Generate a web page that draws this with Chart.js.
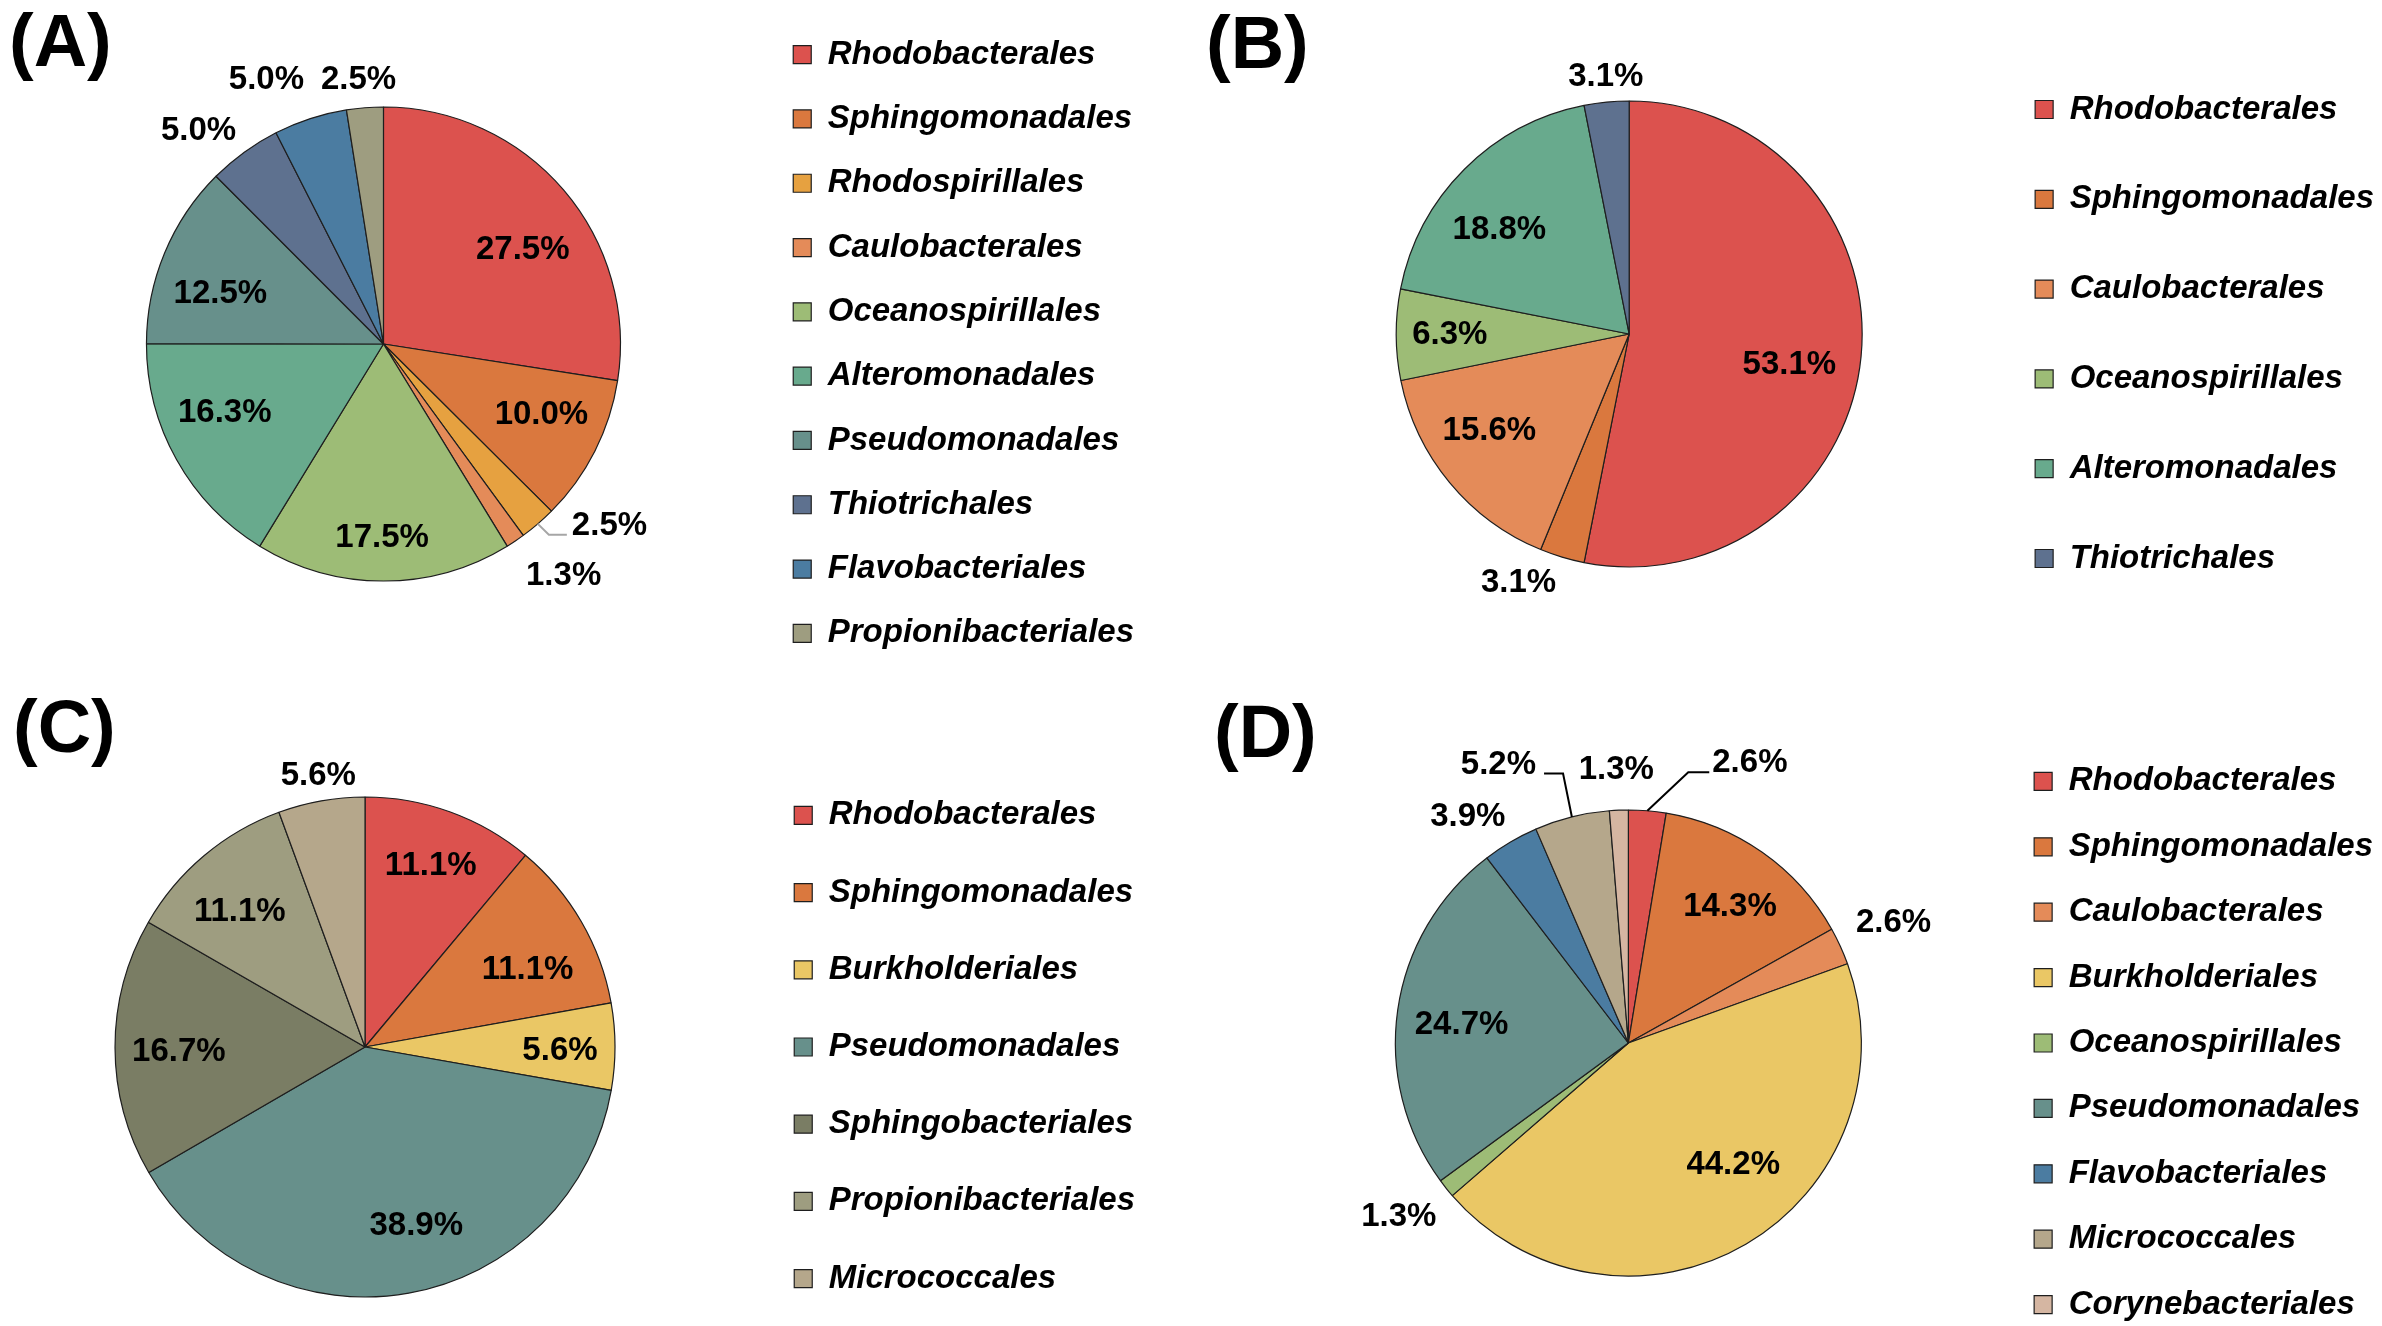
<!DOCTYPE html>
<html>
<head>
<meta charset="utf-8">
<script src="https://cdn.jsdelivr.net/npm/chart.js@4"></script>
<style>
body { margin: 0; background: #fff; }
#page { position: relative; width: 2382px; height: 1326px; overflow: hidden; background: #fff; }
.tag { position: absolute; font: bold 74px "Liberation Sans", Arial, sans-serif; line-height: 1; color: #000; }
canvas { position: absolute; }
</style>
</head>
<body>
<div id="page">
  <div class="tag" style="left:9px; top:4px;">(A)</div>
  <div class="tag" style="left:1206px; top:6px;">(B)</div>
  <div class="tag" style="left:13px; top:690px;">(C)</div>
  <div class="tag" style="left:1214px; top:695px;">(D)</div>
  <canvas id="pieA"></canvas>
  <canvas id="pieB"></canvas>
  <canvas id="pieC"></canvas>
  <canvas id="pieD"></canvas>
</div>
<script>
// orders and their share (%) in each sample
var ordersA = ['Rhodobacterales', 'Sphingomonadales', 'Rhodospirillales', 'Caulobacterales', 'Oceanospirillales',
  'Alteromonadales', 'Pseudomonadales', 'Thiotrichales', 'Flavobacteriales', 'Propionibacteriales'];
var shareA = [27.5, 10.0, 2.5, 1.3, 17.5, 16.3, 12.5, 5.0, 5.0, 2.5];

var ordersB = ['Rhodobacterales', 'Sphingomonadales', 'Caulobacterales', 'Oceanospirillales', 'Alteromonadales', 'Thiotrichales'];
var shareB = [53.1, 3.1, 15.6, 6.3, 18.8, 3.1];

var ordersC = ['Rhodobacterales', 'Sphingomonadales', 'Burkholderiales', 'Pseudomonadales', 'Sphingobacteriales',
  'Propionibacteriales', 'Micrococcales'];
var shareC = [11.1, 11.1, 5.6, 38.9, 16.7, 11.1, 5.6];

var ordersD = ['Rhodobacterales', 'Sphingomonadales', 'Caulobacterales', 'Burkholderiales', 'Oceanospirillales',
  'Pseudomonadales', 'Flavobacteriales', 'Micrococcales', 'Corynebacteriales'];
var shareD = [2.6, 14.3, 2.6, 44.2, 1.3, 24.7, 3.9, 5.2, 1.3];

var orderColor = {
  Rhodobacterales: '#DC524E',
  Sphingomonadales: '#DA783E',
  Rhodospirillales: '#E6A140',
  Caulobacterales: '#E48B59',
  Oceanospirillales: '#9DBC76',
  Alteromonadales: '#68AA8D',
  Pseudomonadales: '#67908B',
  Thiotrichales: '#5E718F',
  Flavobacteriales: '#4B7CA1',
  Propionibacteriales: '#9E9D80',
  Burkholderiales: '#EAC765',
  Sphingobacteriales: '#7A7D64',
  Micrococcales: '#B5A78B',
  Corynebacteriales: '#D5B6A2'
};

// where each percent label sits: [radius factor, angle shift in degrees] from the slice middle,
// or a leader line going out of the slice
var placeA = [[0.71, 6.4], [0.73, -2.8], {lead: 1, f: 1.065, da: -0.3, run: 18, gap: 5, color: '#A6A6A6'},
  [1.24, -4], [0.82, 0.4], [0.73, 5.8], [0.72, -5.5], [1.19, -5], [1.22, -5.9], [1.12, -0.9]];
var placeB = [[0.70, 5.2], [1.17, 7.2], [0.73, 4.9], [0.77, 0], [0.715, -6.2], [1.11, 0.4]];
var placeC = [[0.77, 0], [0.72, 4.7], [0.78, 1.2], [0.745, -5.9], [0.745, -1.4], [0.736, -2.8], [1.10, 0.3]];
var placeD = [{lead: 1, f: 1.19, da: 7.8, run: 21, gap: 3, color: '#000'}, [0.73, 1.6], [1.25, 0.1], [0.69, -10.3],
  [1.235, 1.5], [0.72, -2.1], [1.19, -5], {lead: -1, f: 1.19, da: 0.4, run: 19, gap: 8, color: '#000'}, [1.175, -0.2]];

var labelFont = 'bold 33px "Liberation Sans", Arial, sans-serif';

function sliceLabels(place) {
  return {
    id: 'sliceLabels',
    afterDatasetsDraw: function(chart) {
      var ctx = chart.ctx;
      var values = chart.data.datasets[0].data;
      chart.getDatasetMeta(0).data.forEach(function(arc, i) {
        var p = arc.getProps(['x', 'y', 'startAngle', 'endAngle', 'outerRadius'], true);
        var mid = (p.startAngle + p.endAngle) / 2;
        var spot = place[i];
        var text = values[i].toFixed(1) + '%';
        ctx.save();
        ctx.font = labelFont;
        ctx.fillStyle = '#000';
        if (Array.isArray(spot)) {
          var a = mid + spot[1] * Math.PI / 180;
          var r = p.outerRadius * spot[0];
          ctx.textAlign = 'center';
          ctx.textBaseline = 'middle';
          ctx.fillText(text, p.x + Math.cos(a) * r, p.y + Math.sin(a) * r);
        } else {
          var b = mid + spot.da * Math.PI / 180;
          var ex = p.x + Math.cos(mid) * p.outerRadius;
          var ey = p.y + Math.sin(mid) * p.outerRadius;
          var bx = p.x + Math.cos(b) * p.outerRadius * spot.f;
          var by = p.y + Math.sin(b) * p.outerRadius * spot.f;
          var hx = bx + spot.lead * spot.run;
          ctx.strokeStyle = spot.color;
          ctx.lineWidth = 2;
          ctx.beginPath();
          ctx.moveTo(ex, ey);
          ctx.lineTo(bx, by);
          ctx.lineTo(hx, by);
          ctx.stroke();
          ctx.textAlign = spot.lead > 0 ? 'left' : 'right';
          ctx.textBaseline = 'alphabetic';
          ctx.fillText(text, hx + spot.lead * spot.gap, by);
        }
        ctx.restore();
      });
    }
  };
}

var panels = [
  {id: 'pieA', labels: ordersA, values: shareA, place: placeA, cx: 384, cy: 344, r: 237, box: 794, step: 64.3},
  {id: 'pieB', labels: ordersB, values: shareB, place: placeB, cx: 1629, cy: 334, r: 233, box: 2035, step: 89.8},
  {id: 'pieC', labels: ordersC, values: shareC, place: placeC, cx: 365, cy: 1047, r: 250, box: 794, step: 77.2},
  {id: 'pieD', labels: ordersD, values: shareD, place: placeD, cx: 1629, cy: 1043, r: 233, box: 2035, step: 65.4}
];

var legendSize = 33;
var H = 900;

panels.forEach(function(p) {
  var canvas = document.getElementById(p.id);
  var pad = p.step - legendSize;
  canvas.width = 1400;
  canvas.height = H;
  canvas.style.top = (p.cy - H / 2) + 'px';

  var chart = new Chart(canvas, {
    type: 'pie',
    data: {
      labels: p.labels,
      datasets: [{
        data: p.values,
        backgroundColor: p.labels.map(function(n) { return orderColor[n]; }),
        borderColor: '#1e1e1e',
        borderWidth: 1.2,
        radius: p.r
      }]
    },
    options: {
      responsive: false,
      maintainAspectRatio: false,
      animation: false,
      devicePixelRatio: 1,
      events: [],
      layout: {padding: 0},
      plugins: {
        legend: {
          position: 'right',
          align: 'center',
          labels: {
            boxWidth: 18,
            boxHeight: 18,
            padding: pad,
            color: '#000',
            font: {family: '"Liberation Sans", Arial, sans-serif', size: legendSize, style: 'italic', weight: 'bold'}
          }
        },
        tooltip: {enabled: false}
      }
    },
    plugins: [sliceLabels(p.place)]
  });

  // put the pie centre and the legend boxes where they belong
  var areaW = 2 * (p.box - pad - p.cx);
  canvas.style.left = (p.cx - areaW / 2) + 'px';
  chart.resize(Math.round(areaW + chart.legend.width), H);
});
</script>
</body>
</html>
